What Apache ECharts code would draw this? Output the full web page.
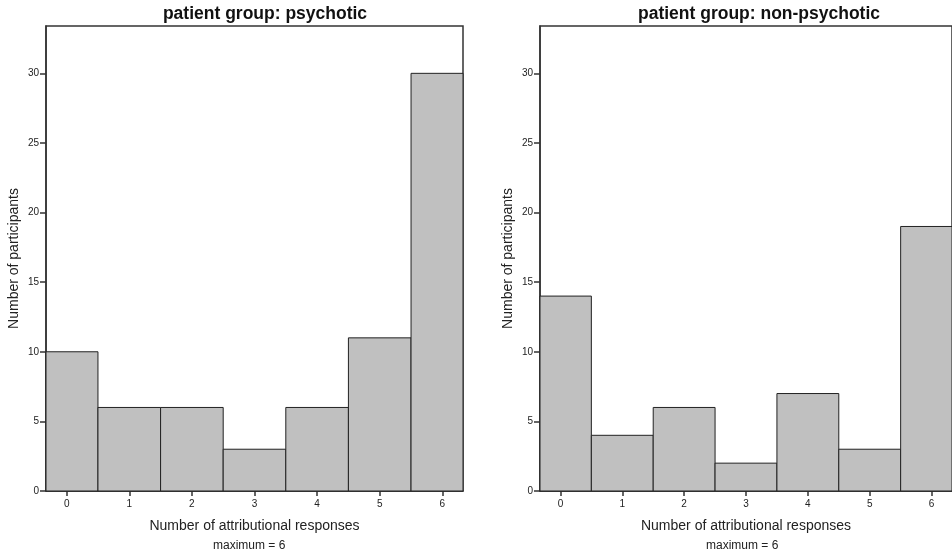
<!DOCTYPE html>
<html>
<head>
<meta charset="utf-8">
<script src="https://cdn.jsdelivr.net/npm/echarts@6/dist/echarts.min.js"></script>
<style>
  html, body { margin: 0; padding: 0; background: #fff; }
  #chart { width: 952px; height: 553px; }
</style>
</head>
<body>
<div id="chart"></div>
<script>
// histogram bins (number of attributional responses)
var bins = [0, 1, 2, 3, 4, 5, 6];
var psychotic = [10, 6, 6, 3, 6, 11, 30];
var nonPsychotic = [14, 4, 6, 2, 7, 3, 19];
var yTicks = [0, 5, 10, 15, 20, 25, 30];
var panelTitles = ['patient group: psychotic', 'patient group: non-psychotic'];

var FONT = '"Liberation Sans", Arial, sans-serif';
var chart = echarts.init(document.getElementById('chart'));

function toData(vals) {
    return bins.map(function (b, i) { return [b, vals[i]]; });
}

function renderBar(params, api) {
    var x = api.value(0), y = api.value(1);
    var p0 = api.coord([x - 0.5, y]);
    var p1 = api.coord([x + 0.5, 0]);
    var rect = echarts.graphic.clipRectByRect(
        { x: p0[0], y: p0[1], width: p1[0] - p0[0], height: p1[1] - p0[1] },
        { x: params.coordSys.x, y: params.coordSys.y, width: params.coordSys.width, height: params.coordSys.height }
    );
    if (!rect) return;
    return {
        type: 'rect',
        shape: rect,
        style: { fill: '#c0c0c0', stroke: '#222', lineWidth: 1 }
    };
}

function xAxis(idx) {
    return {
        type: 'value', gridIndex: idx, min: -0.33, max: 6.33,
        name: 'Number of attributional responses',
        nameLocation: 'middle', nameGap: 28,
        nameTextStyle: { fontFamily: FONT, fontSize: 14, color: '#222' },
        axisLine: { show: true, onZero: false, lineStyle: { color: '#333', width: 1.5 } },
        axisTick: { show: true, length: 5, customValues: bins, lineStyle: { color: '#333', width: 1.5 } },
        axisLabel: { customValues: bins, fontFamily: FONT, fontSize: 10, color: '#222', margin: 8 },
        splitLine: { show: false }
    };
}

function yAxis(idx) {
    return {
        type: 'value', gridIndex: idx, min: 0, max: 33.4, interval: 5,
        name: 'Number of participants',
        nameLocation: 'middle', nameGap: 25,
        nameTextStyle: { fontFamily: FONT, fontSize: 14, color: '#222' },
        axisLine: { show: true, onZero: false, lineStyle: { color: '#333', width: 1.5 } },
        axisTick: { show: true, length: 6, customValues: yTicks, lineStyle: { color: '#333', width: 1.5 } },
        axisLabel: { customValues: yTicks, fontFamily: FONT, fontSize: 10, color: '#222', margin: 7 },
        splitLine: { show: false }
    };
}

chart.setOption({
    animation: false,
    title: [
        { text: panelTitles[0], left: 260, top: 0, textAlign: 'center',
          textStyle: { fontFamily: FONT, fontSize: 17.5, fontWeight: 'bold', color: '#111' } },
        { text: panelTitles[1], left: 754, top: 0, textAlign: 'center',
          textStyle: { fontFamily: FONT, fontSize: 17.5, fontWeight: 'bold', color: '#111' } }
    ],
    grid: [
        { left: 46, top: 26, width: 417, height: 465, show: true, borderColor: '#333', borderWidth: 1.5, backgroundColor: '#fff' },
        { left: 540, top: 26, width: 416, height: 465, show: true, borderColor: '#333', borderWidth: 1.5, backgroundColor: '#fff' }
    ],
    xAxis: [xAxis(0), xAxis(1)],
    yAxis: [yAxis(0), yAxis(1)],
    graphic: [
        { type: 'text', left: 213, top: 540, style: { text: 'maximum = 6', font: '12px ' + FONT, fill: '#222' } },
        { type: 'text', left: 706, top: 540, style: { text: 'maximum = 6', font: '12px ' + FONT, fill: '#222' } }
    ],
    series: [
        { type: 'custom', xAxisIndex: 0, yAxisIndex: 0, renderItem: renderBar, data: toData(psychotic) },
        { type: 'custom', xAxisIndex: 1, yAxisIndex: 1, renderItem: renderBar, data: toData(nonPsychotic) }
    ]
});
</script>
</body>
</html>
